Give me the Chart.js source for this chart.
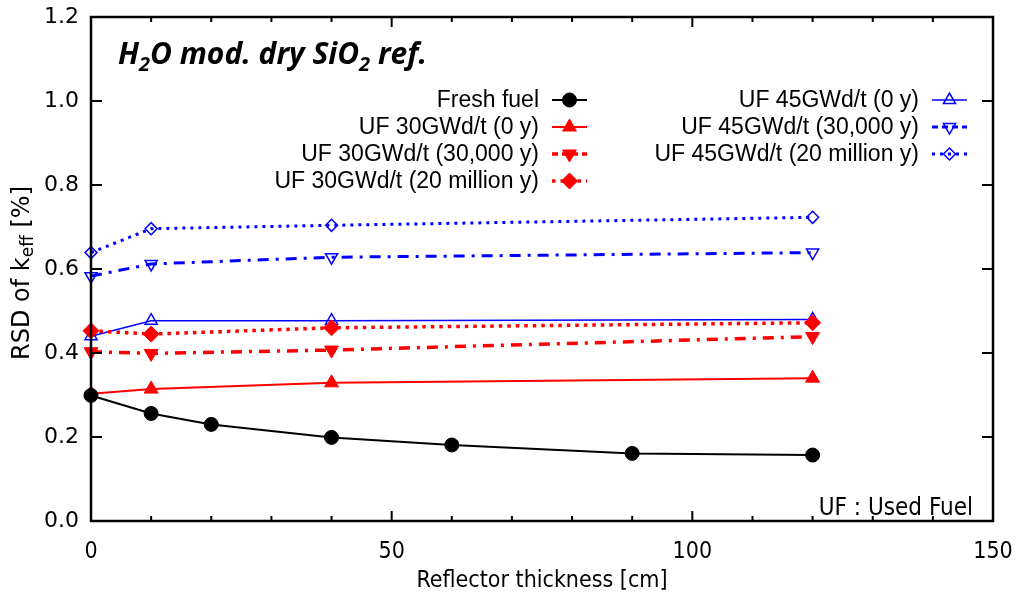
<!DOCTYPE html>
<html>
<head>
<meta charset="utf-8">
<script src="https://cdn.jsdelivr.net/npm/chart.js@4.4.1/dist/chart.umd.min.js"></script>
<style>
  html, body { margin: 0; padding: 0; background: #fff; }
  #wrap { width: 1019px; height: 604px; }
</style>
</head>
<body>
<div id="wrap"><canvas id="rsdChart" width="1019" height="604"></canvas></div>
<script>
// reflector thickness [cm]
var xFresh = [0, 10, 20, 40, 60, 90, 120];
var xUsed = [0, 10, 40, 120];

// RSD of keff [%]
var freshFuel = [0.299, 0.256, 0.230, 0.199, 0.181, 0.161, 0.157];
var uf30_0y = [0.303, 0.314, 0.329, 0.340];
var uf30_30ky = [0.403, 0.399, 0.407, 0.439];
var uf30_20My = [0.453, 0.445, 0.460, 0.472];
var uf45_0y = [0.440, 0.477, 0.477, 0.480];
var uf45_30ky = [0.583, 0.612, 0.628, 0.639];
var uf45_20My = [0.639, 0.696, 0.704, 0.723];

var xTicks = [0, 50, 100, 150];
var yTicks = [0.0, 0.2, 0.4, 0.6, 0.8, 1.0, 1.2];

var RED = 'rgb(255, 0, 0)';
var BLUE = 'rgb(0, 0, 255)';
var condFamily = '"DejaVu Sans Condensed", "DejaVu Sans", sans-serif';

function pts(xs, ys) {
    return xs.map(function (x, i) { return { x: x, y: ys[i] }; });
}

// legend drawn by hand: text right aligned, line sample after it
var legendPlugin = {
    id: 'sideLegend',
    afterDraw: function (chart) {
        var ctx = chart.ctx;
        var cols = [
            { right: 539, idx: [0, 1, 2, 3] },
            { right: 919, idx: [4, 5, 6] }
        ];
        var rowY = [100, 127, 154, 181];
        ctx.save();
        ctx.font = '23px "Liberation Sans", Arial, sans-serif';
        ctx.fillStyle = '#000';
        ctx.textAlign = 'right';
        ctx.textBaseline = 'middle';
        cols.forEach(function (col) {
            col.idx.forEach(function (di, r) {
                var ds = chart.data.datasets[di];
                var y = rowY[r];
                ctx.fillText(ds.label, col.right, y + 1);
                var x0 = col.right + 13, x1 = col.right + 48;
                ctx.save();
                ctx.strokeStyle = ds.borderColor;
                ctx.lineWidth = ds.borderWidth;
                ctx.setLineDash(ds.legendDash || []);
                ctx.beginPath();
                ctx.moveTo(x0, y);
                ctx.lineTo(x1, y);
                ctx.stroke();
                ctx.restore();
                ctx.save();
                ctx.fillStyle = ds.pointBackgroundColor;
                ctx.strokeStyle = ds.pointBorderColor;
                ctx.lineWidth = ds.pointBorderWidth;
                Chart.helpers.drawPoint(ctx, {
                    pointStyle: ds.pointStyle,
                    rotation: ds.pointRotation || 0,
                    radius: ds.pointRadius,
                    borderWidth: ds.pointBorderWidth
                }, (x0 + x1) / 2, y);
                ctx.restore();
            });
        });
        ctx.restore();
    }
};

// frame, inward ticks, titles and notes
var framePlugin = {
    id: 'frame',
    afterDatasetsDraw: function (chart) {
        var ctx = chart.ctx;
        var a = chart.chartArea;
        var xs = chart.scales.x, ys = chart.scales.y;
        ctx.save();
        ctx.strokeStyle = '#000';
        ctx.lineWidth = 2.5;
        ctx.strokeRect(a.left, a.top, a.right - a.left, a.bottom - a.top);
        ctx.lineWidth = 2;
        ctx.beginPath();
        for (var v = 10; v < 150; v += 10) {
            var px = xs.getPixelForValue(v);
            var len = (v % 50 === 0) ? 10 : 5;
            ctx.moveTo(px, a.bottom);
            ctx.lineTo(px, a.bottom - len);
            ctx.moveTo(px, a.top);
            ctx.lineTo(px, a.top + len);
        }
        yTicks.forEach(function (t) {
            if (t === 0 || t === 1.2) return;
            var py = ys.getPixelForValue(t);
            ctx.moveTo(a.left, py);
            ctx.lineTo(a.left + 11, py);
            ctx.moveTo(a.right, py);
            ctx.lineTo(a.right - 11, py);
        });
        ctx.stroke();

        // panel title
        ctx.fillStyle = '#000';
        ctx.textBaseline = 'alphabetic';
        ctx.textAlign = 'left';
        var big = 'italic bold 30px "Open Sans", sans-serif';
        var sub = 'italic bold 20px "Open Sans", sans-serif';
        var parts = [['H', big, 0], ['2', sub, 7], ['O mod. dry SiO', big, 0], ['2', sub, 7], [' ref.', big, 0]];
        var cx = 118;
        parts.forEach(function (p) {
            ctx.font = p[1];
            ctx.fillText(p[0], cx, 64 + p[2]);
            cx += ctx.measureText(p[0]).width;
        });

        // note in the lower right corner
        ctx.font = '24px ' + condFamily;
        ctx.textAlign = 'right';
        ctx.textBaseline = 'middle';
        ctx.fillText('UF : Used Fuel', 973, 509);

        // y axis title with subscript
        ctx.save();
        ctx.translate(23, 273);
        ctx.rotate(-Math.PI / 2);
        ctx.textAlign = 'left';
        ctx.textBaseline = 'middle';
        var yFont = '24px "DejaVu Sans", sans-serif';
        var segs = [['RSD of k', yFont, 0], ['eff', '17px "DejaVu Sans", sans-serif', 6], [' [%]', yFont, 0]];
        var total = 0;
        segs.forEach(function (s) { ctx.font = s[1]; total += ctx.measureText(s[0]).width; });
        var sx = -total / 2;
        segs.forEach(function (s) {
            ctx.font = s[1];
            ctx.fillText(s[0], sx, s[2]);
            sx += ctx.measureText(s[0]).width;
        });
        ctx.restore();
        ctx.restore();
    }
};

var ctx = document.getElementById('rsdChart');
var rsdChart = new Chart(ctx, {
    type: 'line',
    data: {
        datasets: [{
            label: 'Fresh fuel',
            data: pts(xFresh, freshFuel),
            borderColor: '#000',
            borderWidth: 2,
            pointStyle: 'circle',
            pointRadius: 7,
            pointBackgroundColor: '#000',
            pointBorderColor: '#000',
            pointBorderWidth: 1
        }, {
            label: 'UF 30GWd/t (0 y)',
            data: pts(xUsed, uf30_0y),
            borderColor: RED,
            borderWidth: 2,
            pointStyle: 'triangle',
            pointRadius: 8,
            pointBackgroundColor: RED,
            pointBorderColor: RED,
            pointBorderWidth: 1
        }, {
            label: 'UF 30GWd/t (30,000 y)',
            data: pts(xUsed, uf30_30ky),
            borderColor: RED,
            borderWidth: 3.5,
            borderDash: [11, 7, 3, 7],
            legendDash: [6, 4],
            pointStyle: 'triangle',
            pointRotation: 180,
            rotation: 180,
            pointRadius: 8,
            pointBackgroundColor: RED,
            pointBorderColor: RED,
            pointBorderWidth: 1
        }, {
            label: 'UF 30GWd/t (20 million y)',
            data: pts(xUsed, uf30_20My),
            borderColor: RED,
            borderWidth: 3.5,
            borderDash: [3.5, 5],
            legendDash: [3.5, 5],
            pointStyle: 'rectRot',
            pointRadius: 8,
            pointBackgroundColor: RED,
            pointBorderColor: RED,
            pointBorderWidth: 1
        }, {
            label: 'UF 45GWd/t (0 y)',
            data: pts(xUsed, uf45_0y),
            borderColor: BLUE,
            borderWidth: 1.5,
            pointStyle: 'triangle',
            pointRadius: 7,
            pointBackgroundColor: 'rgba(0,0,0,0)',
            pointBorderColor: BLUE,
            pointBorderWidth: 1.5
        }, {
            label: 'UF 45GWd/t (30,000 y)',
            data: pts(xUsed, uf45_30ky),
            borderColor: BLUE,
            borderWidth: 3,
            borderDash: [11, 7, 3, 7],
            legendDash: [6, 4],
            pointStyle: 'triangle',
            pointRotation: 180,
            rotation: 180,
            pointRadius: 7,
            pointBackgroundColor: 'rgba(0,0,0,0)',
            pointBorderColor: BLUE,
            pointBorderWidth: 1.5
        }, {
            label: 'UF 45GWd/t (20 million y)',
            data: pts(xUsed, uf45_20My),
            borderColor: BLUE,
            borderWidth: 3,
            borderDash: [3, 5],
            legendDash: [3, 5],
            pointStyle: 'rectRot',
            pointRadius: 6,
            pointBackgroundColor: 'rgba(0,0,0,0)',
            pointBorderColor: BLUE,
            pointBorderWidth: 1.5
        }]
    },
    options: {
        responsive: false,
        animation: false,
        clip: false,
        elements: {
            line: {
                tension: 0 // straight segments
            }
        },
        layout: {
            padding: { top: 17, right: 26, left: 0, bottom: 0 }
        },
        plugins: {
            legend: { display: false },
            tooltip: { enabled: false }
        },
        scales: {
            x: {
                type: 'linear',
                min: 0,
                max: 150,
                afterBuildTicks: function (s) {
                    s.ticks = xTicks.map(function (v) { return { value: v }; });
                },
                afterFit: function (s) {
                    s.height = 83;
                    s.paddingLeft = 0;
                    s.paddingRight = 0;
                },
                grid: { display: false, drawTicks: false },
                border: { display: false },
                ticks: {
                    padding: 17,
                    color: '#000',
                    maxRotation: 0,
                    font: { family: condFamily, size: 23 }
                },
                title: {
                    display: true,
                    text: 'Reflector thickness [cm]',
                    color: '#000',
                    padding: { top: 0, bottom: 9 },
                    font: { family: condFamily, size: 23 }
                }
            },
            y: {
                min: 0,
                max: 1.2,
                afterBuildTicks: function (s) {
                    s.ticks = yTicks.map(function (v) { return { value: v }; });
                },
                afterFit: function (s) {
                    s.width = 91;
                    s.paddingTop = 0;
                    s.paddingBottom = 0;
                },
                grid: { display: false, drawTicks: false },
                border: { display: false },
                ticks: {
                    padding: 12,
                    color: '#000',
                    callback: function (v) { return Number(v).toFixed(1); },
                    font: { family: '"DejaVu Sans", sans-serif', size: 22 }
                }
            }
        }
    },
    plugins: [framePlugin, legendPlugin]
});
</script>
</body>
</html>
